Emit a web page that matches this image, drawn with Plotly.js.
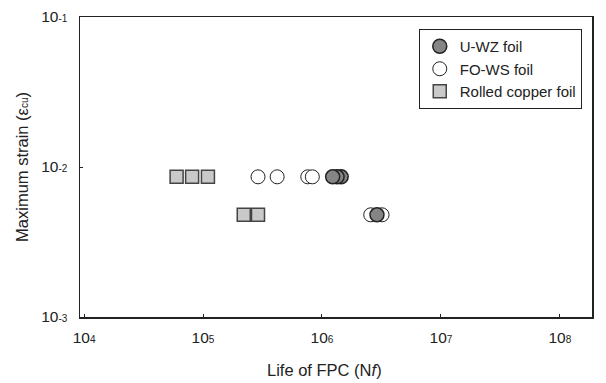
<!DOCTYPE html>
<html>
<head>
<meta charset="utf-8">
<script src="https://cdn.plot.ly/plotly-3.0.1.min.js"></script>
<style>html,body{margin:0;padding:0;background:#fff;}#chart{width:606px;height:383px;}</style>
</head>
<body>
<div id="chart"></div>
<script>
// Data (cycles to failure, maximum strain)
const uwzLife   = [1.45e6, 1.34e6, 1.23e6, 2.9e6];
const uwzStrain = [0.0086, 0.0086, 0.0086, 0.0048];

const fowsLife   = [2.9e5, 4.2e5, 7.6e5, 8.3e5, 2.57e6, 3.2e6];
const fowsStrain = [0.0086, 0.0086, 0.0086, 0.0086, 0.0048, 0.0048];

const rolledLife   = [6.0e4, 8.1e4, 1.1e5, 2.2e5, 2.9e5];
const rolledStrain = [0.0086, 0.0086, 0.0086, 0.0048, 0.0048];

const xTickVals = [1e4, 1e5, 1e6, 1e7, 1e8];
const xTickExp  = ['4', '5', '6', '7', '8'];
const yTickVals = [1e-3, 1e-2, 1e-1];
const yTickExp  = ['-3', '-2', '-1'];

const sm = e => '10<span style="font-size:10px">' + e + '</span>';
const xTickText = xTickExp.map(sm);
const yTickText = yTickExp.map(sm);

const font = 'Liberation Sans, Arial, sans-serif';

const traces = [
  {
    x: fowsLife, y: fowsStrain, name: 'FO-WS foil', type: 'scatter', mode: 'markers',
    marker: {symbol: 'circle', size: 14, color: '#ffffff', line: {color: '#222', width: 1}},
    legendrank: 2
  },
  {
    x: uwzLife, y: uwzStrain, name: 'U-WZ foil', type: 'scatter', mode: 'markers',
    marker: {symbol: 'circle', size: 14, color: '#858585', line: {color: '#222', width: 1.5}},
    legendrank: 1
  },
  {
    x: rolledLife, y: rolledStrain, name: 'Rolled copper foil', type: 'scatter', mode: 'markers',
    marker: {symbol: 'square', size: 13, color: '#c9c9c9', line: {color: '#444', width: 1.5}},
    legendrank: 3
  }
];

const layout = {
  width: 606, height: 383,
  margin: {l: 80, r: 14, t: 17, b: 66},
  paper_bgcolor: '#fff', plot_bgcolor: '#fff',
  font: {family: font, color: '#222', size: 14},
  showlegend: true,
  legend: {
    x: 0.98, y: 0.96, xanchor: 'right', yanchor: 'top',
    bordercolor: '#222', borderwidth: 1, bgcolor: '#fff',
    font: {family: font, size: 15, color: '#222'},
    itemwidth: 30, tracegroupgap: 0
  },
  xaxis: {
    type: 'log', range: [3.966, 8.27],
    tickvals: xTickVals, ticktext: xTickText,
    ticks: 'inside', ticklen: 3, tickcolor: '#222',
    showgrid: false, zeroline: false,
    showline: true, mirror: true, linecolor: '#222', linewidth: 1.5,
    tickfont: {family: font, size: 15.5, color: '#222'},
    ticklabelstandoff: 6
  },
  yaxis: {
    type: 'log', range: [-3, -1],
    tickvals: yTickVals, ticktext: yTickText,
    ticks: 'inside', ticklen: 3, tickcolor: '#222',
    showgrid: false, zeroline: false,
    showline: true, mirror: true, linecolor: '#222', linewidth: 1.5,
    tickfont: {family: font, size: 15.5, color: '#222'},
    ticklabelstandoff: 8,
    title: {text: 'Maximum strain (ε<span style="font-size:10px">cu</span>)', font: {family: font, size: 16.5, color: '#222'}, standoff: 8}
  },
  annotations: [
    {
      text: 'Life of FPC (N<i>f</i>)', xref: 'paper', yref: 'paper',
      x: 0.4785, y: -0.177, xanchor: 'center', yanchor: 'middle',
      showarrow: false, font: {family: font, size: 16.5, color: '#222'}
    }
  ]
};

Plotly.newPlot('chart', traces, layout, {displayModeBar: false, staticPlot: true});
</script>
</body>
</html>
